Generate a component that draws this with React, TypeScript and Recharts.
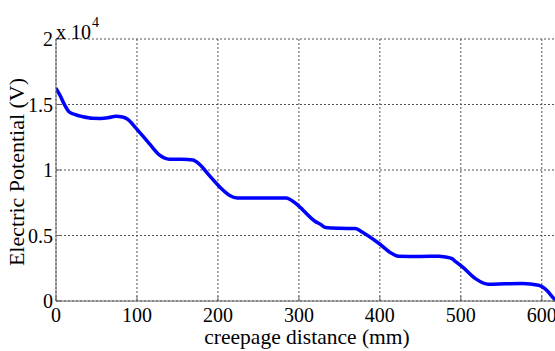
import React from 'react';
import { LineChart, Line, XAxis, YAxis, CartesianGrid } from 'recharts';

const distances = [0, 5, 10, 16, 25, 33, 45, 55, 65, 74, 82, 88, 99, 115, 128, 140, 155, 169, 177, 189, 202, 214, 224, 240, 260, 284, 296, 300, 321, 325, 333, 350, 370, 378, 399, 415, 423, 450, 473, 481, 489, 494, 502, 518, 534, 555, 576, 596, 606, 615, 618];
const potentials = [16240, 15700, 15050, 14450, 14200, 14070, 13950, 13940, 14000, 14100, 14050, 13900, 13180, 12030, 11140, 10830, 10820, 10760, 10450, 9610, 8720, 8080, 7870, 7870, 7870, 7870, 7450, 7240, 6040, 5920, 5610, 5550, 5530, 5270, 4390, 3620, 3420, 3400, 3420, 3360, 3240, 2980, 2600, 1710, 1280, 1310, 1330, 1200, 820, 180, 0];
const xTicks = [0, 100, 200, 300, 400, 500, 600];
const yTicks = [0, 5000, 10000, 15000, 20000];

const data = distances.map((d, i) => ({ x: d, v: potentials[i] }));

const FONT = 'Liberation Serif';
const AXIS = '#666666';

const YLabel = () => (
  <text
    x={24}
    y={172}
    transform="rotate(-90, 24, 172)"
    textAnchor="middle"
    fontFamily={FONT}
    fontSize={22}
    fill="#000"
  >
    Electric Potential (V)
  </text>
);

export default function App() {
  return (
    <div style={{ position: 'absolute', left: 0, top: 0, width: 555, height: 351, overflow: 'hidden', background: '#fff', fontFamily: FONT }}>
      <LineChart width={600} height={351} data={data} margin={{ top: 39, right: 42, bottom: 0, left: 0 }}>
        <CartesianGrid stroke="#555" strokeDasharray="2 2" horizontalValues={yTicks} verticalValues={xTicks} />
        <XAxis
          dataKey="x"
          type="number"
          domain={[0, 620]}
          ticks={xTicks}
          allowDataOverflow
          height={50}
          stroke={AXIS}
          tickSize={-5}
          tickMargin={12}
          fontFamily={FONT}
          fontSize={20}
          tick={{ fill: '#000', fontFamily: FONT, fontSize: 20 }}
          label={{ value: 'creepage distance (mm)', position: 'insideBottom', offset: 7, fontFamily: FONT, fontSize: 21.5, fill: '#000' }}
        />
        <XAxis
          xAxisId="top"
          orientation="top"
          dataKey="x"
          type="number"
          domain={[0, 620]}
          ticks={xTicks}
          height={0}
          stroke={AXIS}
          tickSize={-5}
          tick={false}
        />
        <YAxis
          type="number"
          domain={[0, 20000]}
          ticks={yTicks}
          width={56}
          stroke={AXIS}
          tickSize={-5}
          tickMargin={8}
          fontFamily={FONT}
          fontSize={20}
          tickFormatter={(v: number) => String(v / 10000)}
          tick={{ fill: '#000', fontFamily: FONT, fontSize: 20 }}
          label={<YLabel />}
        />
        <Line
          type="monotone"
          dataKey="v"
          stroke="#0000ff"
          strokeWidth={3.5}
          dot={false}
          isAnimationActive={false}
        />
      </LineChart>
      <div style={{ position: 'absolute', left: 56, top: 16, fontSize: 20, lineHeight: '22px', color: '#000', whiteSpace: 'nowrap', fontFamily: FONT }}>
        x 10<sup style={{ fontSize: 14, position: 'relative', top: -4, marginLeft: 1 }}>4</sup>
      </div>
    </div>
  );
}
